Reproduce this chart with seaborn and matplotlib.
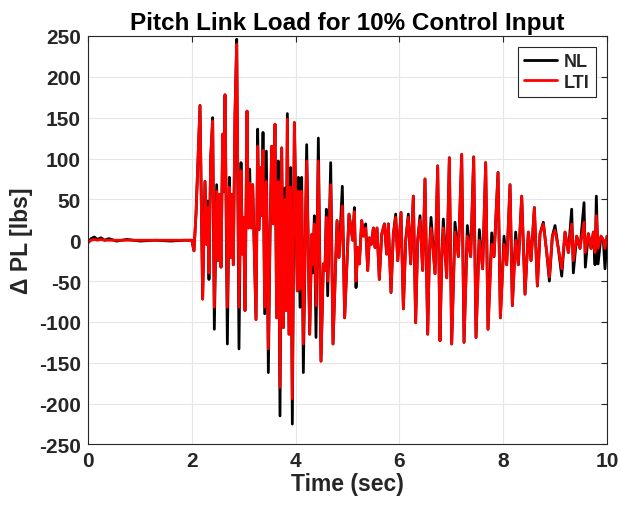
import numpy as np
import pandas as pd
import matplotlib
matplotlib.use("Agg")
import matplotlib.pyplot as plt
import seaborn as sns

# turning points (time in sec, load in lbs)
time_s = [
    0.00, 0.06, 0.12, 0.18, 0.25, 0.32, 0.40, 0.55, 0.75, 1.00, 1.30, 1.60, 1.85, 2.00,
    2.042, 2.081, 2.158, 2.209, 2.254, 2.287, 2.306, 2.331, 2.364, 2.402, 2.434, 2.479,
    2.511, 2.537, 2.563, 2.595, 2.615, 2.640, 2.685, 2.723, 2.749, 2.768, 2.800, 2.832,
    2.865, 2.909, 2.948, 2.974, 2.999, 3.025, 3.064, 3.089, 3.115, 3.141, 3.173, 3.237,
    3.269, 3.295, 3.333, 3.352, 3.372, 3.404, 3.436, 3.475, 3.507, 3.539, 3.571, 3.603,
    3.635, 3.667, 3.699, 3.732, 3.764, 3.796, 3.815, 3.841, 3.873, 3.905, 3.937, 3.976,
    4.033, 4.053, 4.085, 4.117, 4.149, 4.213, 4.271, 4.310, 4.329, 4.361, 4.393, 4.438,
    4.489, 4.534, 4.566, 4.592, 4.618, 4.676, 4.721, 4.798, 4.836, 4.900, 4.945, 5.029,
    5.100, 5.132, 5.164, 5.196, 5.228, 5.273, 5.310, 5.350, 5.389, 5.421, 5.459, 5.498,
    5.530, 5.568, 5.613, 5.658, 5.710, 5.755, 5.787, 5.838, 5.883, 5.928, 5.967, 5.992,
    6.031, 6.076, 6.121, 6.172, 6.217, 6.268, 6.313, 6.352, 6.397, 6.448, 6.493, 6.545,
    6.577, 6.609, 6.686, 6.737, 6.782, 6.814, 6.846, 6.911, 6.962, 7.007, 7.071, 7.136,
    7.200, 7.245, 7.309, 7.373, 7.431, 7.476, 7.540, 7.604, 7.662, 7.707, 7.778, 7.823,
    7.900, 7.945, 8.015, 8.067, 8.131, 8.176, 8.240, 8.291, 8.356, 8.420, 8.484, 8.536,
    8.600, 8.658, 8.709, 8.773, 8.838, 8.889, 8.947, 8.998, 9.062, 9.127, 9.191, 9.255,
    9.319, 9.351, 9.416, 9.480, 9.557, 9.582, 9.640, 9.692, 9.737, 9.769, 9.794, 9.827,
    9.884, 9.929, 9.961, 10.0,
]

nl_load = [
    -3, 2, 4, 1, 3, 0, 2, -1, 1, -1, 0, -1, 0, 0,
    -13, 32, 165, -72, 72, -5, 48, -48, 101, 150, -109, 68,
    -25, 56, -33, 130, 60, 178, -127, 77, -21, 56, -30, 154,
    246, -133, 95, -17, 28, -86, 158, 15, 87, 15, 68, -97,
    136, 13, 89, 30, 132, -90, 109, -162, 7, 115, 20, 142,
    -95, 97, -215, 113, -107, 64, -86, 155, -115, 89, -225, 144,
    -62, 77, -82, 77, -162, 117, -115, 7, -40, 30, -119, 125,
    -148, -29, -37, 38, -68, 95, -127, 24, -21, 66, -95, 32,
    0, 40, -58, -9, -29, 24, 5, 20, -37, 3, -5, 15,
    -9, 15, -48, 7, 20, -17, 20, -64, 7, 32, -25, -5,
    34, -84, 0, 32, -29, 54, -101, 0, 30, -37, 75, -115,
    -17, 28, -41, 91, -123, -25, 26, -46, 101, -127, 22, -20,
    105, -125, 18, -20, 102, -119, 13, -35, 95, -109, 9, -20,
    83, -95, 5, -30, 68, -80, 10, -30, 54, -66, 10, -25,
    40, -56, 8, 22, -15, -50, 5, 18, -10, -44, 10, -15,
    38, -40, 5, -10, 46, -33, 8, -10, 10, -30, 54, -29,
    5, 0, -35, 5,
]

lti_load = [
    -3, 0, 1, 0, 1, 0, 0, 0, 0, 0, 0, 0, 0, 0,
    -13, 32, 165, -72, 72, -5, 40, -40, 101, 146, -82, 60,
    -25, 56, -33, 130, 60, 178, -82, 65, -21, 56, -30, 154,
    240, -82, 85, -17, 28, -86, 158, 15, 70, 15, 68, -97,
    115, 13, 89, 30, 110, -82, 72, -133, 7, 115, 20, 142,
    -95, 72, -180, 113, -107, 50, -86, 148, -115, 65, -194, 144,
    -62, 60, -60, 60, -127, 97, -115, 7, -30, 20, -80, 97,
    -148, -29, -37, 28, -50, 68, -127, 24, -21, 42, -95, 32,
    0, 35, -50, -9, -29, 24, 5, 15, -37, 3, -5, 15,
    -9, 15, -48, 7, 20, -17, 20, -64, 7, 28, -25, -5,
    34, -84, 0, 28, -29, 54, -101, 0, 25, -37, 75, -115,
    -17, 15, -41, 91, -123, -25, 15, -46, 101, -127, 10, -20,
    105, -125, 5, -20, 102, -119, 0, -35, 95, -109, -5, -20,
    83, -95, -5, -30, 68, -80, 0, -30, 54, -66, 10, -25,
    40, -56, 8, 20, -15, -45, 5, 12, -10, -35, 10, -15,
    20, -25, 5, -10, 22, -15, 8, -10, 10, -15, 30, -10,
    5, 0, -10, 5,
]

series = ["NL", "LTI"]
colors = {"NL": "black", "LTI": "red"}

df = pd.DataFrame({
    "time": time_s * 2,
    "load": nl_load + lti_load,
    "model": ["NL"] * len(time_s) + ["LTI"] * len(time_s),
})

sns.set_style("whitegrid")
plt.rcParams["font.family"] = ["Liberation Sans", "DejaVu Sans"]
plt.rcParams["font.weight"] = "bold"
plt.rcParams["axes.unicode_minus"] = False

fig = plt.figure(figsize=(6.21, 5.06), dpi=100)
ax = fig.add_axes([0.1417, 0.1196, 0.8358, 0.8073])

sns.lineplot(data=df, x="time", y="load", hue="model", hue_order=series,
             palette=colors, estimator=None, sort=False, linewidth=2.0, ax=ax)

ax.set_xlim(0, 10)
ax.set_ylim(-250, 250)
ax.set_xticks(np.arange(0, 11, 2))
ax.set_yticks(np.arange(-250, 251, 50))
ax.grid(True, color="#e6e6e6", linewidth=0.8)
for side in ["left", "right", "top", "bottom"]:
    ax.spines[side].set_visible(True)
    ax.spines[side].set_color("#262626")
    ax.spines[side].set_linewidth(0.8)
ax.tick_params(direction="in", length=4, width=0.8, color="#262626",
               top=True, right=True, labelsize=15, labelcolor="#262626", pad=5)
for lab in ax.get_xticklabels() + ax.get_yticklabels():
    lab.set_fontweight("bold")

ax.set_title("Pitch Link Load for 10% Control Input", fontsize=17.5,
             fontweight="bold", color="black", pad=5)
ax.set_xlabel("Time (sec)", fontsize=16.5, fontweight="bold", color="#262626", labelpad=1)
ax.set_ylabel("Δ PL [lbs]", fontsize=16.5, fontweight="bold", color="#262626", labelpad=4)

leg = ax.legend(loc="upper right", fontsize=13, frameon=True, fancybox=False,
                edgecolor="#262626", framealpha=1, handlelength=1.8, handletextpad=0.4,
                borderaxespad=0.6, borderpad=0.35, labelspacing=0.2)
leg.get_frame().set_linewidth(0.8)
for t in leg.get_texts():
    t.set_fontweight("bold")

fig.savefig("out.png", dpi=100)
